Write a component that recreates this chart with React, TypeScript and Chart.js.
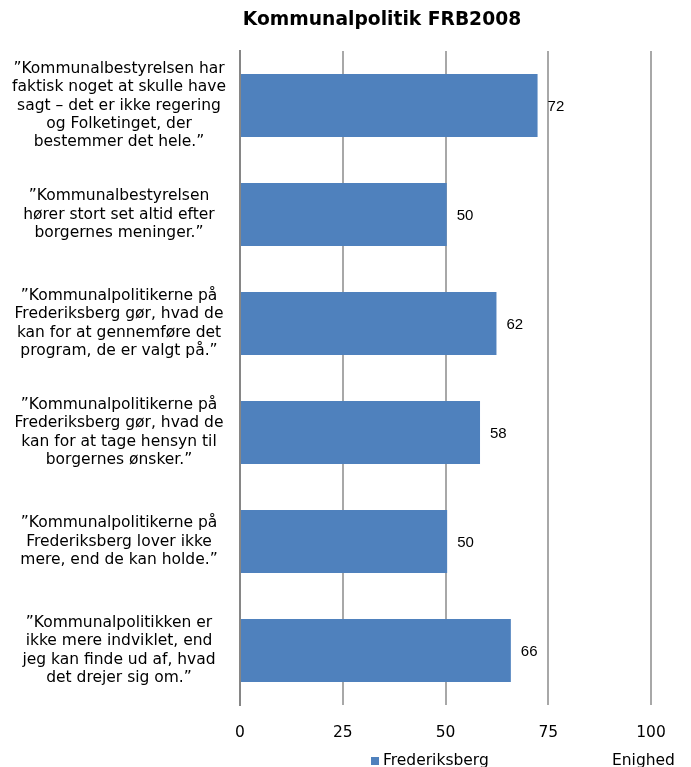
import { useEffect, useRef } from 'react';
import { Chart, registerables } from 'chart.js';

Chart.register(...registerables);

const chartTitle = 'Kommunalpolitik FRB2008';
const categories: string[][] = [
  ['”Kommunalbestyrelsen har', 'faktisk noget at skulle have', 'sagt – det er ikke regering', 'og Folketinget, der', 'bestemmer det hele.”'],
  ['”Kommunalbestyrelsen', 'hører stort set altid efter', 'borgernes meninger.”'],
  ['”Kommunalpolitikerne på', 'Frederiksberg gør, hvad de', 'kan for at gennemføre det', 'program, de er valgt på.”'],
  ['”Kommunalpolitikerne på', 'Frederiksberg gør, hvad de', 'kan for at tage hensyn til', 'borgernes ønsker.”'],
  ['”Kommunalpolitikerne på', 'Frederiksberg lover ikke', 'mere, end de kan holde.”'],
  ['”Kommunalpolitikken er', 'ikke mere indviklet, end', 'jeg kan finde ud af, hvad', 'det drejer sig om.”'],
];
const seriesName = 'Frederiksberg';
const values = [72.4, 50.3, 62.4, 58.4, 50.4, 65.9];
const xMin = 0;
const xMax = 100;
const xStep = 25;
const xAxisTitle = 'Enighed';

const FONT = '"DejaVu Sans", Verdana, sans-serif';
const BAR_COLOR = '#4f81bd';

export default function App() {
  const ref = useRef<HTMLCanvasElement | null>(null);

  useEffect(() => {
    if (!ref.current) return;
    const overlay = {
      id: 'overlay',
      afterDraw(chart: any) {
        const { ctx, chartArea } = chart;
        ctx.save();
        // title
        ctx.fillStyle = '#000';
        ctx.font = `bold 18.7px ${FONT}`;
        ctx.textAlign = 'center';
        ctx.textBaseline = 'middle';
        ctx.fillText(chartTitle, chartArea.left + 142, 20);
        // data labels
        ctx.font = '15px "Liberation Sans", Arial, sans-serif';
        ctx.textAlign = 'left';
        ctx.textBaseline = 'middle';
        const meta = chart.getDatasetMeta(0);
        meta.data.forEach((bar: any, i: number) => {
          ctx.fillText(String(Math.round(values[i])), bar.x + 10, bar.y + 1);
        });
        // legend
        ctx.fillStyle = BAR_COLOR;
        ctx.fillRect(chartArea.left + 131, 757, 8, 8);
        ctx.fillStyle = '#000';
        ctx.font = `15.5px ${FONT}`;
        ctx.textBaseline = 'alphabetic';
        ctx.fillText(seriesName, chartArea.left + 143, 765);
        // axis title
        ctx.fillText(xAxisTitle, chartArea.right - 39, 765);
        ctx.restore();
      },
    };

    const chart = new Chart(ref.current, {
      type: 'bar',
      data: {
        labels: categories,
        datasets: [
          {
            label: seriesName,
            data: values,
            backgroundColor: BAR_COLOR,
            borderWidth: 0,
            barPercentage: 0.58,
            categoryPercentage: 1,
          },
        ],
      },
      options: {
        indexAxis: 'y',
        responsive: false,
        animation: false,
        layout: { padding: { top: 51, right: 40, left: 0, bottom: 0 } },
        plugins: {
          legend: { display: false },
          title: { display: false },
          tooltip: { enabled: false },
        },
        scales: {
          x: {
            type: 'linear',
            min: xMin,
            max: xMax,
            ticks: {
              stepSize: xStep,
              padding: 19,
              color: '#000',
              font: { family: FONT, size: 15.5 },
            },
            grid: {
              drawTicks: false,
              tickLength: 0,
              lineWidth: 2,
              color: (c: any) => (c.tick && c.tick.value === 0 ? 'rgba(0,0,0,0)' : '#a8a8a8'),
            },
            border: { display: false },
            afterFit: (scale: any) => {
              scale.height = 62;
            },
          },
          y: {
            type: 'category',
            grid: { display: false, drawTicks: false, tickLength: 0 },
            border: { display: true, color: '#868686', width: 2 },
            ticks: {
              crossAlign: 'center',
              padding: 14,
              color: '#000',
              font: { family: FONT, size: 15.5, lineHeight: 1.18 },
            },
            afterFit: (scale: any) => {
              scale.width = 240;
            },
          },
        },
      },
      plugins: [overlay],
    });
    return () => chart.destroy();
  }, []);

  return (
    <div style={{ position: 'absolute', left: 0, top: 0, width: 691, height: 767, overflow: 'hidden', background: '#fff' }}>
      <canvas ref={ref} width={691} height={767} style={{ display: 'block', width: 691, height: 767 }} />
    </div>
  );
}
